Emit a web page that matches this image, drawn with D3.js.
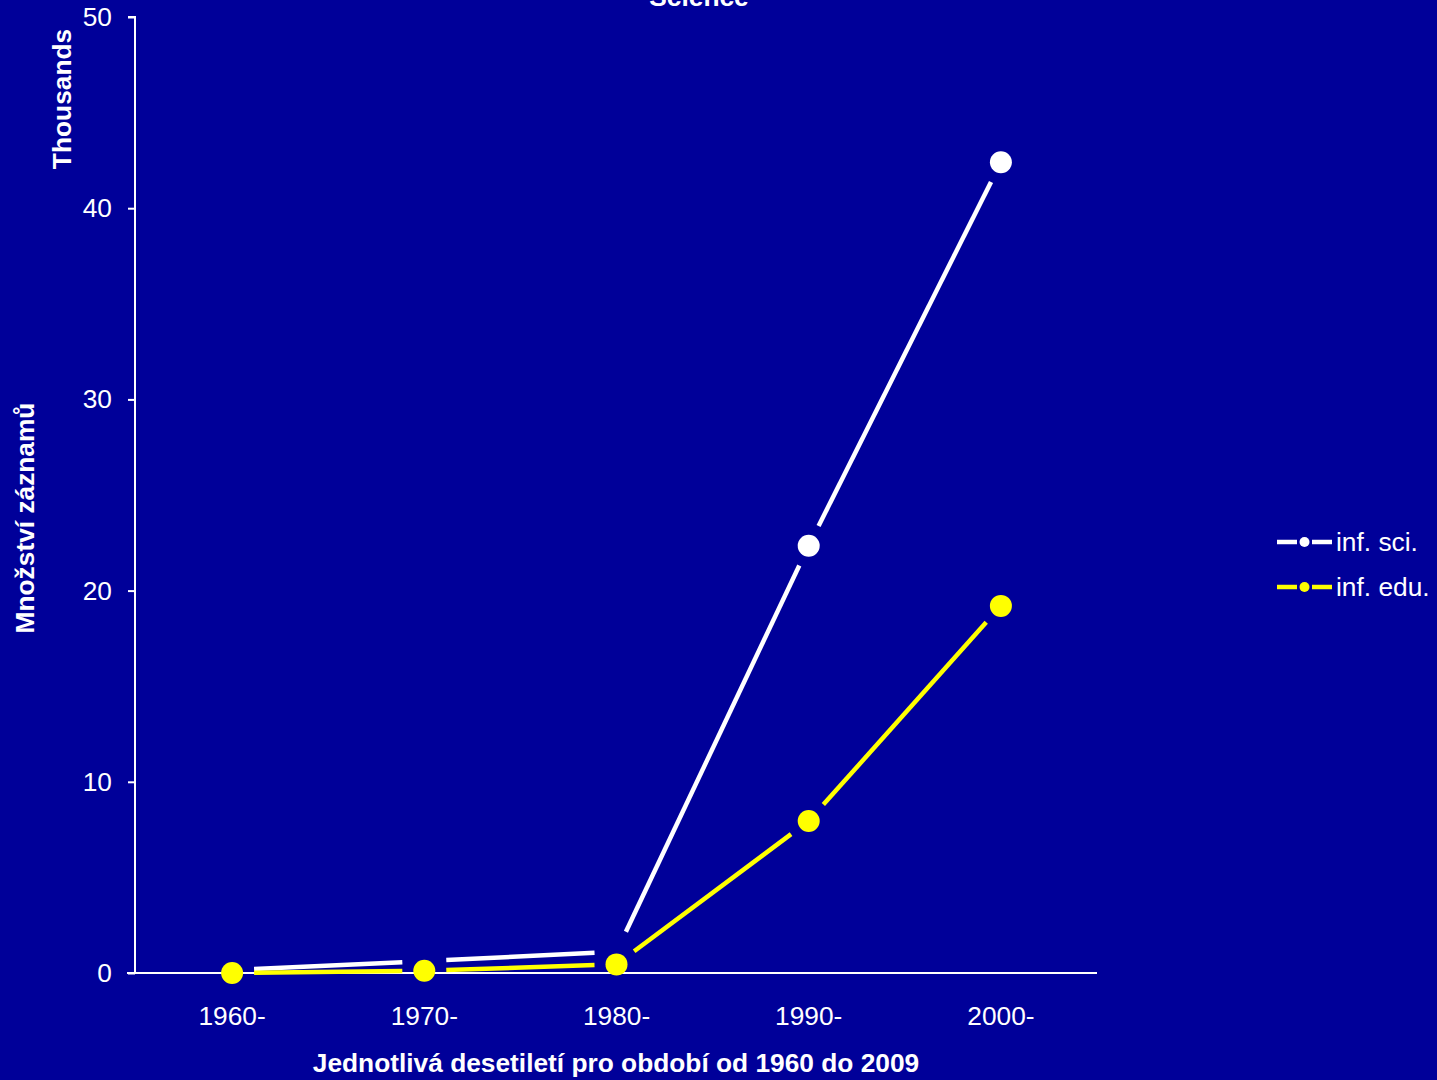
<!DOCTYPE html>
<html>
<head>
<meta charset="utf-8">
<script src="https://cdn.jsdelivr.net/npm/d3@7"></script>
<style>
  html, body { margin: 0; padding: 0; background: #000099; }
  svg { display: block; font-family: Arial, "Liberation Sans", sans-serif; }
</style>
</head>
<body>
<svg></svg>
<script>
var decades = ["1960-", "1970-", "1980-", "1990-", "2000-"];
var infSci = [0.15, 0.62, 1.12, 22.35, 42.4];
var infEdu = [0.0, 0.12, 0.45, 7.95, 19.2];
var yTicks = [0, 10, 20, 30, 40, 50];
var seriesNames = ["inf. sci.", "inf. edu."];
var seriesColors = ["#ffffff", "#ffff00"];

draw();

function draw(){
  var width = 1437, height = 1080;
  var fs = "26.3px";
  var svg = d3.select("svg").attr("width", width).attr("height", height);

  svg.append("rect").attr("width", width).attr("height", height).attr("fill", "#000099");

  var x = d3.scaleBand().domain(decades).range([136, 1097]);
  var y = d3.scaleLinear().domain([0, 50]).range([973, 17]);

  // y axis
  var yAxis = svg.append("g")
                 .attr("transform", "translate(135,0)")
                 .call(d3.axisLeft(y).tickValues(yTicks).tickSize(7).tickPadding(16));
  yAxis.select(".domain").attr("stroke", "#fff").attr("stroke-width", 2)
       .attr("d", "M0," + y(0) + "V" + y(50) + "H-7");
  yAxis.selectAll(".tick line").attr("stroke", "#fff").attr("stroke-width", 2);
  yAxis.selectAll(".tick text").attr("fill", "#fff")
       .style("font-size", fs).style("font-family", "Arial, 'Liberation Sans', sans-serif");

  // x axis
  var xAxis = svg.append("g")
                 .attr("transform", "translate(0," + y(0) + ")")
                 .call(d3.axisBottom(x).tickSize(0).tickPadding(33));
  xAxis.select(".domain").attr("stroke", "#fff").attr("stroke-width", 2)
       .attr("d", "M127,0H1097");
  xAxis.selectAll(".tick text").attr("fill", "#fff")
       .style("font-size", fs).style("font-family", "Arial, 'Liberation Sans', sans-serif");

  function cx(i){ return x(decades[i]) + x.bandwidth() / 2; }

  // lines with gaps round the markers
  var gap = 22;
  [infSci, infEdu].forEach(function(vals, s){
    var pts = vals.map(function(v, i){ return [cx(i), y(v)]; });
    var segs = [];
    for (var i = 0; i < pts.length - 1; i++){
      var a = pts[i], b = pts[i + 1];
      var dx = b[0] - a[0], dy = b[1] - a[1];
      var len = Math.sqrt(dx * dx + dy * dy);
      var ux = dx / len, uy = dy / len;
      segs.push([[a[0] + ux * gap, a[1] + uy * gap], [b[0] - ux * gap, b[1] - uy * gap]]);
    }
    svg.append("g").selectAll("line")
       .data(segs).enter().append("line")
       .attr("x1", function(d){ return d[0][0]; })
       .attr("y1", function(d){ return d[0][1]; })
       .attr("x2", function(d){ return d[1][0]; })
       .attr("y2", function(d){ return d[1][1]; })
       .attr("stroke", seriesColors[s])
       .attr("stroke-width", 4.5);
  });

  // in the source the first three white markers are hidden, only 1990 and 2000 show
  [infSci, infEdu].forEach(function(vals, s){
    var pts = vals.map(function(v, i){ return {v: v, i: i}; })
                  .filter(function(p){ return s === 1 || p.i >= 3; });
    svg.append("g").selectAll("circle")
       .data(pts).enter().append("circle")
       .attr("cx", function(p){ return cx(p.i); })
       .attr("cy", function(p){ return y(p.v); })
       .attr("r", 11)
       .attr("fill", seriesColors[s]);
  });

  // titles
  svg.append("text").attr("x", 699).attr("y", 6)
     .attr("text-anchor", "middle").attr("fill", "#fff")
     .style("font-size", fs).style("font-weight", "bold").text("Science");

  svg.append("text").attr("x", 616).attr("y", 1072)
     .attr("text-anchor", "middle").attr("fill", "#fff")
     .style("font-size", fs).style("font-weight", "bold")
     .text("Jednotlivá desetiletí pro období od 1960 do 2009");

  svg.append("text").attr("transform", "translate(34,518) rotate(-90)")
     .attr("text-anchor", "middle").attr("fill", "#fff")
     .style("font-size", fs).style("font-weight", "bold")
     .text("Množství záznamů");

  svg.append("text").attr("transform", "translate(71,99) rotate(-90)")
     .attr("text-anchor", "middle").attr("fill", "#fff")
     .style("font-size", fs).style("font-weight", "bold")
     .text("Thousands");

  // legend
  var legend = svg.append("g").selectAll("g")
                  .data(seriesNames).enter().append("g")
                  .attr("transform", function(d, i){ return "translate(1277," + (542 + i * 45) + ")"; });
  legend.append("line").attr("x1", 0).attr("x2", 20).attr("stroke-width", 4.5)
        .attr("stroke", function(d, i){ return seriesColors[i]; });
  legend.append("line").attr("x1", 35).attr("x2", 55).attr("stroke-width", 4.5)
        .attr("stroke", function(d, i){ return seriesColors[i]; });
  legend.append("circle").attr("cx", 27.5).attr("r", 5)
        .attr("fill", function(d, i){ return seriesColors[i]; });
  legend.append("text").attr("x", 59).attr("y", 9).attr("fill", "#fff")
        .style("font-size", fs).text(function(d){ return d; });
}
</script>
</body>
</html>
